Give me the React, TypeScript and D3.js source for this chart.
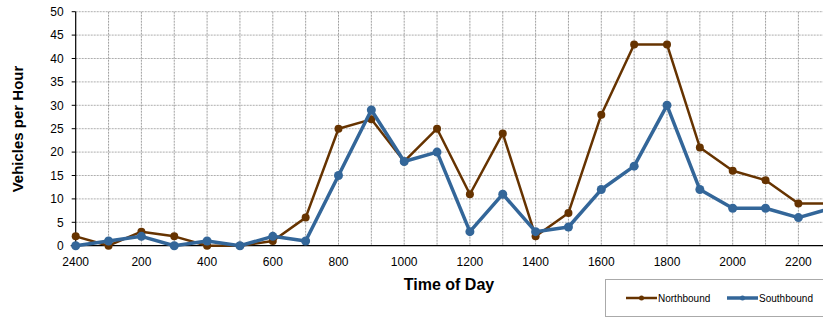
import React, { useEffect, useRef } from "react";
import * as d3 from "d3";

// hours of the day, 2400 first, chart is cut off on the right
const hours = ["2400", "100", "200", "300", "400", "500", "600", "700", "800", "900", "1000", "1100",
  "1200", "1300", "1400", "1500", "1600", "1700", "1800", "1900", "2000", "2100", "2200", "2300"];
const northbound = [2, 0, 3, 2, 0, 0, 1, 6, 25, 27, 18, 25, 11, 24, 2, 7, 28, 43, 43, 21, 16, 14, 9, 9];
const southbound = [0, 1, 2, 0, 1, 0, 2, 1, 15, 29, 18, 20, 3, 11, 3, 4, 12, 17, 30, 12, 8, 8, 6, 8];
const yTicks = [0, 5, 10, 15, 20, 25, 30, 35, 40, 45, 50];
const xLabels = ["2400", "200", "400", "600", "800", "1000", "1200", "1400", "1600", "1800", "2000", "2200"];

const BROWN = "#663300";
const BLUE = "#336699";

const App = () => {
  const svgRef = useRef<SVGSVGElement>(null);

  useEffect(() => {
    document.body.style.margin = "0";
    const svg = d3.select(svgRef.current);
    svg.selectAll("*").remove();

    const left = 75.7;
    const step = 32.85;
    const top = 11.7;
    const bottom = 245.7;

    const x = d3.scalePoint<string>()
      .domain(hours)
      .range([left, left + step * (hours.length - 1)]);
    const y = d3.scaleLinear().domain([0, 50]).range([bottom, top]);

    const font = "'Liberation Sans', Arial, sans-serif";

    // grid
    const grid = svg.append("g");
    grid.selectAll(".hg")
      .data(yTicks.filter(d => d > 0))
      .join("line")
      .attr("x1", left).attr("x2", 900)
      .attr("y1", d => y(d)).attr("y2", d => y(d))
      .attr("stroke", "#999").attr("stroke-width", 0.8)
      .attr("stroke-dasharray", "2,1");
    grid.selectAll(".vg")
      .data(hours.slice(1))
      .join("line")
      .attr("x1", d => x(d)!).attr("x2", d => x(d)!)
      .attr("y1", top).attr("y2", bottom)
      .attr("stroke", "#888").attr("stroke-width", 0.8)
      .attr("stroke-dasharray", "2,1");

    // axes
    svg.append("line")
      .attr("x1", left).attr("x2", left).attr("y1", top).attr("y2", bottom)
      .attr("stroke", "#000").attr("stroke-width", 1.2);
    svg.append("line")
      .attr("x1", left - 5).attr("x2", 900).attr("y1", bottom).attr("y2", bottom)
      .attr("stroke", "#000").attr("stroke-width", 1.2);

    svg.append("g").selectAll("text")
      .data(yTicks)
      .join("text")
      .attr("x", left - 12).attr("y", d => y(d))
      .attr("dy", "0.35em")
      .attr("text-anchor", "end")
      .attr("font-family", font).attr("font-size", 12)
      .text(d => d);
    svg.append("g").selectAll("line")
      .data(yTicks)
      .join("line")
      .attr("x1", left - 4).attr("x2", left).attr("y1", d => y(d)).attr("y2", d => y(d))
      .attr("stroke", "#000");

    svg.append("g").selectAll("text")
      .data(xLabels)
      .join("text")
      .attr("x", d => x(d)!).attr("y", bottom + 16)
      .attr("dy", "0.35em")
      .attr("text-anchor", "middle")
      .attr("font-family", font).attr("font-size", 12)
      .text(d => d);

    // titles
    svg.append("text")
      .attr("transform", `translate(23,129) rotate(-90)`)
      .attr("text-anchor", "middle")
      .attr("font-family", font).attr("font-size", 15).attr("font-weight", "bold")
      .text("Vehicles per Hour");
    svg.append("text")
      .attr("x", 449).attr("y", 290)
      .attr("text-anchor", "middle")
      .attr("font-family", font).attr("font-size", 16).attr("font-weight", "bold")
      .text("Time of Day");

    // series
    const series = [
      { name: "Northbound", values: northbound, color: BROWN, width: 2.5, r: 4 },
      { name: "Southbound", values: southbound, color: BLUE, width: 3.5, r: 4.5 }
    ];
    const line = d3.line<number>()
      .x((_, i) => x(hours[i])!)
      .y(d => y(d));

    series.forEach(s => {
      svg.append("path")
        .attr("d", line(s.values))
        .attr("fill", "none")
        .attr("stroke", s.color)
        .attr("stroke-width", s.width)
        .attr("stroke-linejoin", "round");
      svg.append("g").selectAll("circle")
        .data(s.values)
        .join("circle")
        .attr("cx", (_, i) => x(hours[i])!)
        .attr("cy", d => y(d))
        .attr("r", s.r)
        .attr("fill", s.color);
    });

    // legend
    const lg = svg.append("g");
    lg.append("rect")
      .attr("x", 605.5).attr("y", 279.5).attr("width", 240).attr("height", 37)
      .attr("fill", "#fff").attr("stroke", "#aaa");
    series.forEach((s, i) => {
      const lx = 626 + i * 101;
      lg.append("line")
        .attr("x1", lx).attr("x2", lx + 31).attr("y1", 298).attr("y2", 298)
        .attr("stroke", s.color).attr("stroke-width", s.width);
      lg.append("circle")
        .attr("cx", lx + 15.5).attr("cy", 298).attr("r", 2.5).attr("fill", s.color);
      lg.append("text")
        .attr("x", lx + 32).attr("y", 298).attr("dy", "0.35em")
        .attr("font-family", font).attr("font-size", 10)
        .text(s.name);
    });
  }, []);

  return (
    <svg ref={svgRef} width={823} height={320}
      style={{ display: "block", position: "absolute", left: 0, top: 0, overflow: "hidden" }} />
  );
};

export default App;
